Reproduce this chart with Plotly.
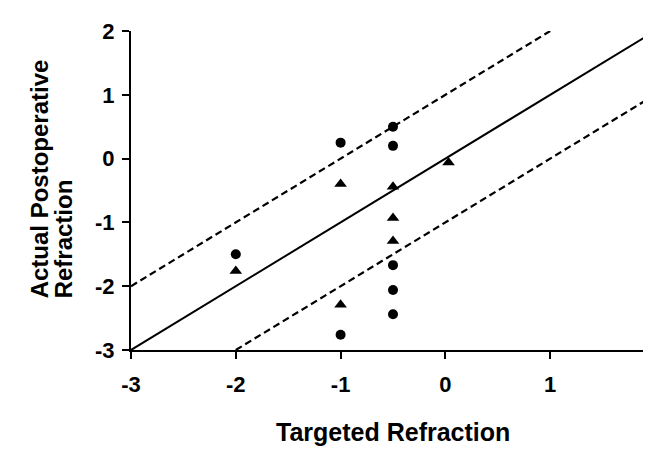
import plotly.graph_objects as go

# Data
circle_x = [-2, -1, -0.5, -0.5, -0.5, -0.5, -0.5, -1]
circle_y = [-1.5, 0.25, 0.5, 0.2, -1.67, -2.06, -2.44, -2.76]
tri_x = [-2, -1, -0.5, 0.03, -0.5, -0.5, -1]
tri_y = [-1.76, -0.4, -0.44, -0.06, -0.93, -1.29, -2.29]

ident_x = [-3, 2]
ident_y = [-3, 2]
upper_x = [-3, 1]
upper_y = [-2, 2]
lower_x = [-2, 2]
lower_y = [-3, 1]

tick_vals = [-3, -2, -1, 0, 1, 2]
tick_text = ["-3", "-2", "-1", "0", "1", "2"]

x_title = "Targeted Refraction"
y_title_lines = ["Actual Postoperative", "Refraction"]

FONT = "Liberation Sans, Arial, sans-serif"

fig = go.Figure()
fig.add_trace(go.Scatter(x=ident_x, y=ident_y, mode="lines",
                         line=dict(color="black", width=2), showlegend=False))
fig.add_trace(go.Scatter(x=upper_x, y=upper_y, mode="lines",
                         line=dict(color="black", width=2.2, dash="7px,4px"), showlegend=False))
fig.add_trace(go.Scatter(x=lower_x, y=lower_y, mode="lines",
                         line=dict(color="black", width=2.2, dash="7px,4px"), showlegend=False))
fig.add_trace(go.Scatter(x=circle_x, y=circle_y, mode="markers",
                         marker=dict(symbol="circle", size=10, color="black"),
                         cliponaxis=False, showlegend=False))
fig.add_trace(go.Scatter(x=tri_x, y=tri_y, mode="markers",
                         marker=dict(symbol="triangle-up", size=11, color="black"),
                         cliponaxis=False, showlegend=False))

axis_common = dict(
    showgrid=False, zeroline=False, showline=True, linecolor="black", linewidth=2,
    ticks="outside", ticklen=7, tickwidth=2, tickcolor="black",
    tickvals=tick_vals, ticktext=tick_text, automargin=False,
    ticklabeloverflow="allow",
    tickfont=dict(family=FONT, size=22, color="black", weight="bold"),
)

title_font = dict(family=FONT, size=24, color="black", weight="bold")

fig.update_layout(
    width=651, height=449,
    margin=dict(l=123, r=4, t=23, b=107),
    paper_bgcolor="white", plot_bgcolor="white",
    xaxis=dict(range=[-3, 2], ticklabelstandoff=7, **axis_common),
    yaxis=dict(range=[-3, 2], ticklabelstandoff=3, **axis_common),
    annotations=[
        dict(text=x_title, xref="paper", yref="paper", x=0.5, y=-0.256,
             xanchor="center", yanchor="middle", showarrow=False,
             font=dict(family=FONT, size=25, color="black", weight="bold")),
        dict(text=y_title_lines[0], xref="paper", yref="paper", x=0, y=0.154,
             xshift=-92, xanchor="center", yanchor="bottom", textangle=-90,
             showarrow=False, font=title_font),
        dict(text=y_title_lines[1], xref="paper", yref="paper", x=0, y=0.154,
             xshift=-68, xanchor="center", yanchor="bottom", textangle=-90,
             showarrow=False, font=title_font),
    ],
)

fig.write_html("out.html")
